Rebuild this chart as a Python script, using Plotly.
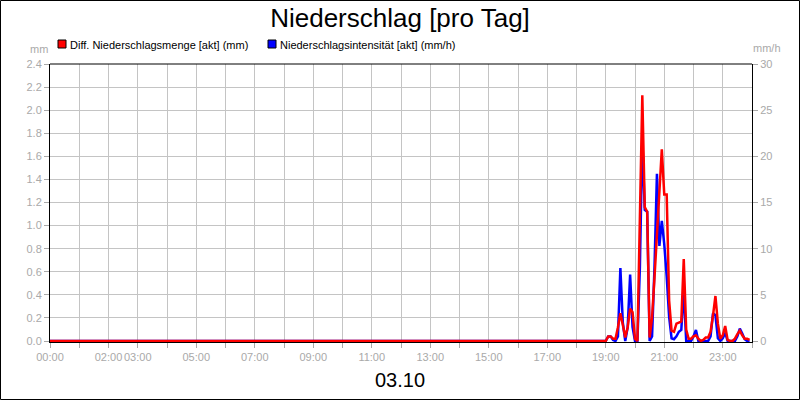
import plotly.graph_objects as go

# ---------------- data ----------------
DAY = "2024-10-03"
NEXT_DAY = "2024-10-04"
TIMES = ["00:00"] + [f"{h:02d}:{m:02d}" for h in range(19, 24) for m in range(0, 60, 5)]

# Diff. Niederschlagsmenge [akt] (mm) -- left axis
MENGE_MM = [0.00,
    0.00, 0.04, 0.04, 0.02, 0.02, 0.12, 0.24, 0.14, 0.03, 0.12, 0.28, 0.25,   # 19:xx
    0.02, 0.00, 1.05, 2.13, 1.16, 1.12, 0.03, 0.20, 0.55, 0.90, 1.25, 1.66,   # 20:xx
    1.27, 1.27, 0.35, 0.09, 0.08, 0.15, 0.16, 0.17, 0.71, 0.10, 0.02, 0.02,   # 21:xx
    0.04, 0.05, 0.02, 0.00, 0.01, 0.03, 0.03, 0.08, 0.22, 0.39, 0.15, 0.02,   # 22:xx
    0.05, 0.13, 0.01, 0.00, 0.00, 0.02, 0.06, 0.09, 0.05, 0.02, 0.02, 0.01]   # 23:xx

# Niederschlagsintensität [akt] (mm/h) -- right axis
INTENS_MMH = [0.0,
    0.0, 0.5, 0.5, 0.1, 0.0, 0.5, 7.9, 2.0, 0.0, 1.5, 7.2, 1.5,       # 19:xx
    0.0, 0.0, 8.0, 22.0, 14.2, 14.0, 0.0, 0.5, 8.0, 18.1, 10.3, 13.0,  # 20:xx
    10.5, 7.0, 2.6, 0.3, 0.2, 0.5, 1.0, 1.2, 5.6, 0.0, 0.0, 0.0,      # 21:xx
    0.5, 1.2, 0.0, 0.0, 0.0, 0.0, 0.0, 0.5, 3.0, 2.8, 0.3, 0.0,       # 22:xx
    0.3, 0.9, 0.0, 0.0, 0.0, 0.0, 0.5, 1.35, 0.8, 0.2, 0.0, 0.0]      # 23:xx

X_LABELS = ["00:00", "02:00", "03:00", "05:00", "07:00", "09:00", "11:00",
            "13:00", "15:00", "17:00", "19:00", "21:00", "23:00"]
LEFT_TICKS = [0.0, 0.2, 0.4, 0.6, 0.8, 1.0, 1.2, 1.4, 1.6, 1.8, 2.0, 2.2, 2.4]
RIGHT_TICKS = [0, 5, 10, 15, 20, 25, 30]

TITLE = "Niederschlag [pro Tag]"
SERIES_RED = "Diff. Niederschlagsmenge [akt] (mm)"
SERIES_BLUE = "Niederschlagsintensität [akt] (mm/h)"
DATE_LABEL = "03.10"

# ---------------- layout helpers ----------------
W, H = 800, 400
PL, PR, PT, PB = 50, 752, 64, 342   # plot area in pixels


def px(x):
    return (x - PL) / (PR - PL)


def py(y):
    return (PB - y) / (PB - PT)


FONT = "Liberation Sans, Arial, sans-serif"
GRAY = "#a9a9a9"
GRID = "#c4c4c4"

# one pixel of headroom below zero so the zero line is not half clipped
LEFT_MAX, RIGHT_MAX = 2.4, 30
LEFT_RANGE = [-LEFT_MAX / (PB - PT), LEFT_MAX]
RIGHT_RANGE = [-RIGHT_MAX / (PB - PT), RIGHT_MAX]

x_vals = [f"{DAY} {t}" for t in TIMES]
hour_ticks = [f"{DAY} {h:02d}:00" for h in range(24)] + [f"{NEXT_DAY} 00:00"]
hour_text = [(f"{h:02d}:00" if f"{h:02d}:00" in X_LABELS else "") for h in range(24)] + [""]

fig = go.Figure()
fig.add_trace(go.Scatter(x=x_vals, y=INTENS_MMH, mode="lines", name=SERIES_BLUE,
                         line=dict(color="#0000ff", width=2.5), yaxis="y",
                         showlegend=False, hoverinfo="skip"))
fig.add_trace(go.Scatter(x=x_vals, y=MENGE_MM, mode="lines", name=SERIES_RED,
                         line=dict(color="#ff0000", width=2.5), yaxis="y2",
                         showlegend=False, hoverinfo="skip"))

fig.update_layout(
    width=W, height=H, autosize=False,
    margin=dict(l=PL, r=W - PR, t=PT, b=H - PB, pad=0),
    paper_bgcolor="white", plot_bgcolor="white",
    font=dict(family=FONT, size=11, color=GRAY),
    title=dict(text=TITLE, xref="container", x=0.5, xanchor="center",
               yref="container", y=1 - 18 / H, yanchor="middle",
               font=dict(family=FONT, size=26, color="black")),
    xaxis=dict(type="date", range=[f"{DAY} 00:00", f"{NEXT_DAY} 00:00"],
               tickmode="array", tickvals=hour_ticks, ticktext=hour_text,
               tickangle=0, automargin=False,
               showgrid=True, gridcolor=GRID, gridwidth=1,
               ticks="outside", ticklen=5, tickcolor=GRAY,
               tickfont=dict(family=FONT, size=11, color=GRAY),
               showline=True, linecolor="black", linewidth=1,
               layer="below traces", zeroline=False, fixedrange=True),
    yaxis=dict(range=RIGHT_RANGE, side="right", tickmode="array", tickvals=RIGHT_TICKS,
               ticktext=[str(v) for v in RIGHT_TICKS], automargin=False,
               showgrid=True, gridcolor=GRID, gridwidth=1,
               minor=dict(tickmode="array",
                          tickvals=[v + 2.5 for v in RIGHT_TICKS[:-1]],
                          showgrid=True, gridcolor=GRID, ticks=""),
               ticks="outside", ticklen=5, tickcolor=GRAY,
               tickfont=dict(family=FONT, size=11, color=GRAY),
               showline=True, linecolor="black", linewidth=1,
               zeroline=False, layer="below traces", fixedrange=True),
    yaxis2=dict(range=LEFT_RANGE, side="left", overlaying="y", tickmode="array",
                tickvals=LEFT_TICKS, ticktext=[f"{v:.1f}" for v in LEFT_TICKS],
                automargin=False,
                showgrid=False, ticks="outside", ticklen=5, tickcolor=GRAY,
                tickfont=dict(family=FONT, size=11, color=GRAY),
                showline=True, linecolor="black", linewidth=1,
                zeroline=False, layer="below traces", fixedrange=True),
)

shapes = [
    # outer border of the image
    dict(type="rect", xref="paper", yref="paper",
         x0=px(0.5), x1=px(W - 0.5), y0=py(H - 0.5), y1=py(0.5),
         line=dict(color="black", width=1), fillcolor="rgba(0,0,0,0)", layer="above"),
    # top frame line of the plot area
    dict(type="line", xref="paper", yref="paper", x0=0, x1=1, y0=1, y1=1,
         line=dict(color="black", width=1), layer="above"),
    # legend squares
    dict(type="rect", xref="paper", yref="paper",
         x0=px(58), x1=px(66), y0=py(48), y1=py(40),
         line=dict(color="black", width=1), fillcolor="#ff0000", layer="above"),
    dict(type="rect", xref="paper", yref="paper",
         x0=px(268), x1=px(276), y0=py(48), y1=py(40),
         line=dict(color="black", width=1), fillcolor="#0000ff", layer="above"),
]
fig.update_layout(shapes=shapes)

annotations = [
    dict(text=SERIES_RED, x=px(69), y=py(44.5), xanchor="left", yanchor="middle",
         font=dict(family=FONT, size=11, color="black")),
    dict(text=SERIES_BLUE, x=px(279), y=py(44.5), xanchor="left", yanchor="middle",
         font=dict(family=FONT, size=11, color="black")),
    dict(text="mm", x=px(49), y=py(49), xanchor="right", yanchor="middle",
         font=dict(family=FONT, size=11, color=GRAY)),
    dict(text="mm/h", x=px(752), y=py(48), xanchor="left", yanchor="middle",
         font=dict(family=FONT, size=11, color=GRAY)),
    dict(text=DATE_LABEL, x=px(400), y=py(380), xanchor="center", yanchor="middle",
         font=dict(family=FONT, size=20, color="black")),
]
for a in annotations:
    a.update(xref="paper", yref="paper", showarrow=False, borderpad=0)
fig.update_layout(annotations=annotations)

fig.write_html("out.html", config={"displayModeBar": False},
               post_script="document.body.style.margin='0';"
                           "document.body.style.padding='0';")
